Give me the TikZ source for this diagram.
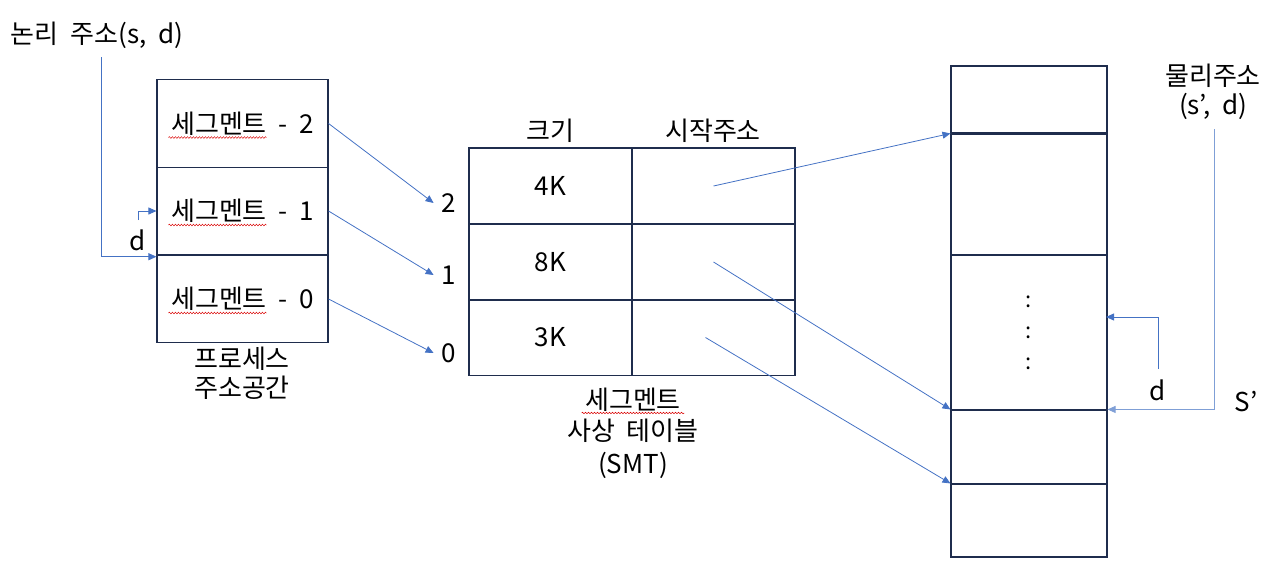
\documentclass[tikz,border=0pt]{standalone}
\usepackage{fontspec}
\setmainfont{Noto Sans CJK KR}
\usetikzlibrary{arrows.meta,positioning,calc,decorations.pathmorphing}
\definecolor{boxline}{HTML}{1F2D4D}
\definecolor{linkblue}{HTML}{4472C4}
\definecolor{linklight}{HTML}{7F9FD6}
\newcommand\bigtxt{\fontsize{26}{29}\selectfont\spaceskip=0.45em plus 0.1em\relax}
\newcommand\smttxt{\fontsize{26}{33}\selectfont\spaceskip=0.45em plus 0.1em\relax}
\tikzset{
  >={Triangle[length=8pt,width=7pt]},
  cell/.style={draw=boxline, line width=1.1pt, minimum width=171pt, minimum height=87.5pt, inner sep=0pt},
  smt/.style={draw=boxline, line width=1.1pt, minimum width=163pt, minimum height=76pt, inner sep=0pt},
  mem/.style={draw=boxline, line width=1.1pt, minimum width=156pt, inner sep=0pt, align=center},
  num/.style={inner sep=8pt},
  link/.style={->, draw=linkblue, line width=0.8pt},
  spell/.style={draw=red!85!black, line width=0.5pt, decorate, decoration={snake, amplitude=0.8pt, segment length=3pt}},
}

\begin{document}
\begin{tikzpicture}[x=1pt, y=-1pt, every node/.append style={font=\bigtxt}]
  \useasboundingbox (0,0) rectangle (1279,584);

  % process address space
  \node (lg) at (97,35) {논리 주소(s, d)};
  \node[cell] (seg2) at (242.5,123.5) {세그멘트 - 2};
  \node[cell] (seg1) at (242.5,211) {세그멘트 - 1};
  \node[cell] (seg0) at (242.5,299) {세그멘트 - 0};
  \node[align=center] (proc) at (242,373) {프로세스\\주소공간};
  \node (dl) at (138,240) {d};
  \coordinate (lgfoot) at (101,57);
  \coordinate (dfoot) at (138,220);
  \draw[link] (lgfoot) |- ([yshift=-2pt]seg0.north west);
  \draw[link] (dfoot) |- (seg1.west);
  \foreach \s in {seg2,seg1,seg0}
    \draw[spell] ([xshift=12pt,yshift=-14pt]\s.west) -- ++(98,0);

  % segment mapping table
  \node[num] (n2) at (449,203) {2};
  \node[num] (n1) at (449,275) {1};
  \node[num] (n0) at (449,353) {0};
  \node[smt] (sz2) at (550.5,186) {4K};
  \node[smt] (sz1) at (550.5,262) {8K};
  \node[smt] (sz0) at (550.5,337.5) {3K};
  \node[smt] (ad2) at (713.5,186) {};
  \node[smt] (ad1) at (713.5,262) {};
  \node[smt] (ad0) at (713.5,337.5) {};
  \node (hsize) at (550,131) {크기};
  \node (hbase) at (713,131) {시작주소};
  \node (smtword) at (633,400) {세그멘트};
  \node[align=center, font=\smttxt] (smtlbl) at (633,449) {사상 테이블\\(SMT)};
  \draw[spell] ([yshift=-13pt]smtword.west) -- ([yshift=-13pt]smtword.east);
  \draw[link] (seg2.east) -- (n2.west);
  \draw[link] (seg1.east) -- (n1.west);
  \draw[link] (seg0.east) -- (n0.west);

  % physical memory
  \node[mem, minimum height=68pt] (m1) at (1029,100) {};
  \node[mem, minimum height=121pt] (m2) at (1029,194.5) {};
  \node[mem, minimum height=155pt, font=\fontsize{22}{31}\selectfont] (m3) at (1029,332.5) {:\\:\\:};
  \node[mem, minimum height=74pt] (m4) at (1029,447) {};
  \node[mem, minimum height=73pt] (m5) at (1029,520.5) {};
  \draw[boxline, line width=2pt] (m2.north west) -- (m2.north east);
  \node[align=center] (phys) at (1213,92) {물리주소\\(s’, d)};
  \node (dr) at (1158,390) {d};
  \node (sp) at (1246,402) {S’};
  \coordinate (pfoot) at (1214,129);
  \coordinate (dfoot2) at (1158,369);
  \coordinate (doff) at (1106,317);
  \draw[link, draw=linklight] (pfoot) |- (m4.north east);
  \draw[link] (dfoot2) |- (doff);
  \draw[link] (ad2.center) -- (m2.north west);
  \draw[link] (ad1.center) -- (m4.north west);
  \draw[link] ([xshift=-8pt]ad0.center) -- (m5.north west);
\end{tikzpicture}
\end{document}
